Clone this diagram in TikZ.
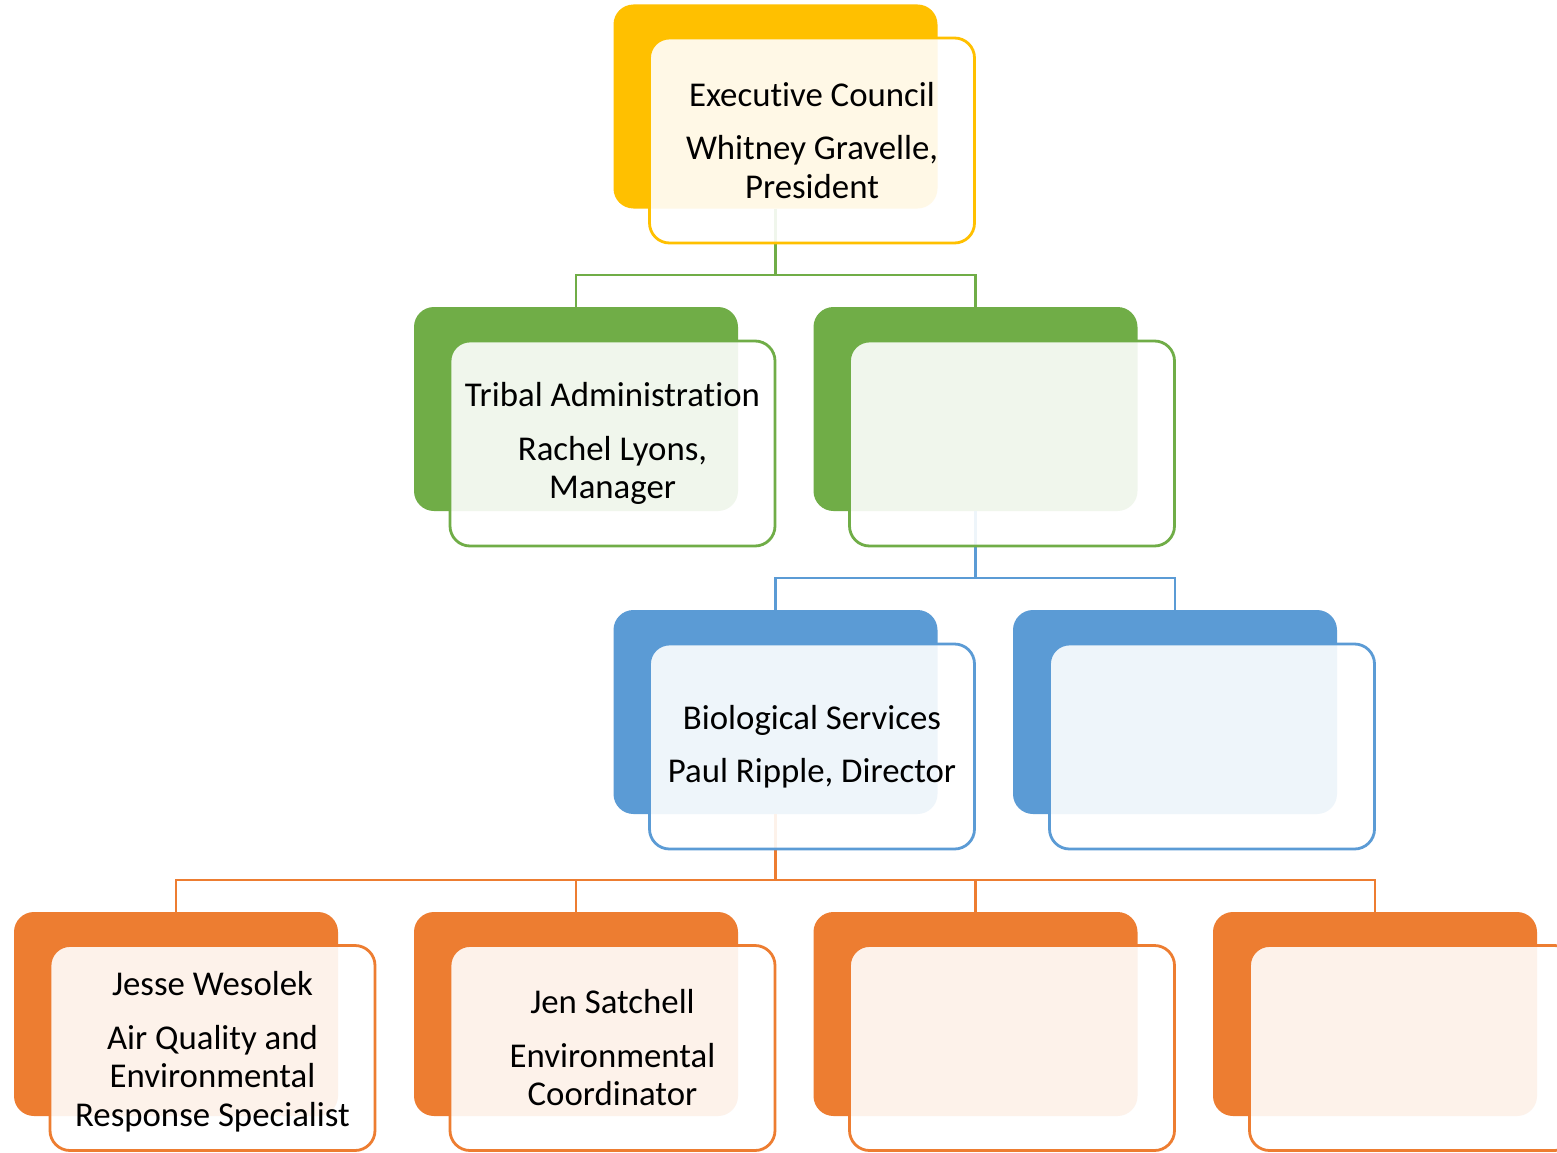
\documentclass[tikz,border=0pt]{standalone}
\usepackage{fontspec}
\setmainfont[RawFeature={-liga;-clig;-calt;-dlig}]{Carlito}
\definecolor{cyel}{HTML}{FFC000}
\definecolor{cgrn}{HTML}{70AD47}
\definecolor{cblu}{HTML}{5B9BD5}
\definecolor{corg}{HTML}{ED7D31}
\newcommand{\nolig}{\kern0pt{}}
\begin{document}
\begin{tikzpicture}[x=1pt,y=-1pt,
  back/.style={rectangle, rounded corners=20pt, minimum width=324pt, minimum height=204pt, inner sep=0pt, fill=#1},
  front/.style={rectangle, rounded corners=20pt, minimum width=325pt, minimum height=205pt, inner sep=0pt, draw=#1, line width=2.8pt, fill=white, fill opacity=0.9, text opacity=1, align=center, font=\fontsize{34.8}{38.5}\selectfont},
  conn/.style={draw=#1, line width=2.8pt}]
\clip (0,0) rectangle (1557,1153);
\fill[white] (0,0) rectangle (1557,1153);
% back boxes
\node[back=cyel] (by) at (775.5,106.5) {};
\node[back=cgrn] (bg1) at (576,409) {};
\node[back=cgrn] (bg2) at (975.5,409) {};
\node[back=cblu] (bb1) at (775.5,712) {};
\node[back=cblu] (bb2) at (1175,712) {};
\node[back=corg] (bo1) at (176,1014) {};
\node[back=corg] (bo2) at (576,1014) {};
\node[back=corg] (bo3) at (975.5,1014) {};
\node[back=corg] (bo4) at (1375,1014) {};
% connectors
\coordinate (j1) at (by.south |- 0,275);
\coordinate (j2) at (bg2.south |- 0,578);
\coordinate (j3) at (bb1.south |- 0,880);
\draw[conn=cgrn] (by.south) -- (j1) -| (bg1.north);
\draw[conn=cgrn] (j1) -| (bg2.north);
\draw[conn=cblu] (bg2.south) -- (j2) -| (bb1.north);
\draw[conn=cblu] (j2) -| (bb2.north);
\draw[conn=corg] (bb1.south) -- (j3) -| (bo1.north);
\draw[conn=corg] (j3) -| (bo2.north);
\draw[conn=corg] (j3) -| (bo3.north);
\draw[conn=corg] (j3) -| (bo4.north);
% front boxes
\node[front=cyel] (fy) at (812,140.5) {Execut\nolig ive Council\\[15pt]Whitney Gravelle,\\President};
\node[front=cgrn] (fg1) at (612.5,443.5) {Tribal Administrat\nolig ion\\[15pt]Rachel Lyons,\\Manager};
\node[front=cgrn] (fg2) at (1012,443.5) {};
\node[front=cblu] (fb1) at (812,746.5) {Biological Services\\[15pt]Paul Ripple, Director};
\node[front=cblu] (fb2) at (1212,746.5) {};
\node[front=corg] (fo1) at (212.5,1048) {};
\node[align=center, font=\fontsize{34.8}{38.5}\selectfont, inner sep=0pt] (to1) at (212.5,1051.5) {Jesse Wesolek\\[15pt]Air Quality and\\Environmental\\Response Specialist};
\node[front=corg] (fo2) at (612.5,1048) {Jen Satchell\\[15pt]Environmental\\Coordinator};
\node[front=corg] (fo3) at (1012,1048) {};
\node[front=corg] (fo4) at (1412,1048) {};
\end{tikzpicture}
\end{document}
